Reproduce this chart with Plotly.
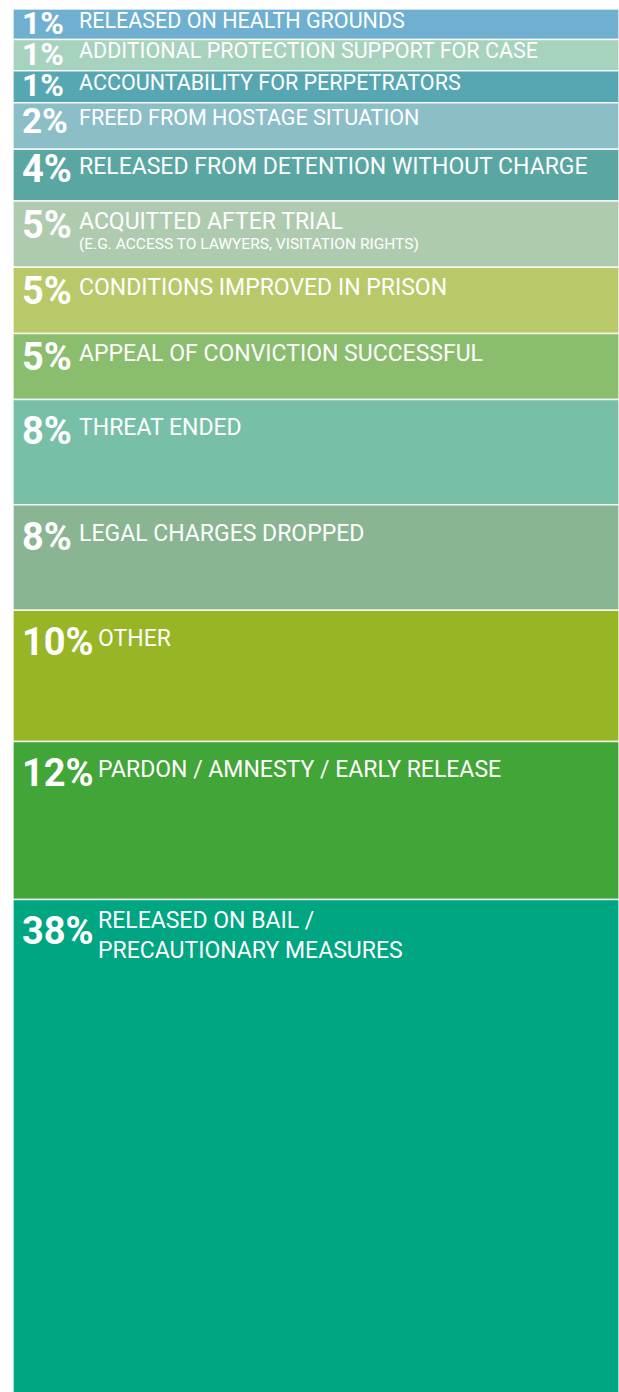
import numpy as np
import plotly.graph_objects as go

# Valores (de cima para baixo)
percents = ['1%', '1%', '1%', '2%', '4%', '5%', '5%', '5%', '8%', '8%', '10%', '12%', '38%']
labels = [
    'RELEASED ON HEALTH GROUNDS',
    'ADDITIONAL PROTECTION SUPPORT FOR CASE',
    'ACCOUNTABILITY FOR PERPETRATORS',
    'FREED FROM HOSTAGE SITUATION',
    'RELEASED FROM DETENTION WITHOUT CHARGE',
    'ACQUITTED AFTER TRIAL',
    'CONDITIONS IMPROVED IN PRISON',
    'APPEAL OF CONVICTION SUCCESSFUL',
    'THREAT ENDED',
    'LEGAL CHARGES DROPPED',
    'OTHER',
    'PARDON / AMNESTY / EARLY RELEASE',
    'RELEASED ON BAIL /<br>PRECAUTIONARY MEASURES',
]
sublabels = ['', '', '', '', '', '(E.G. ACCESS TO LAWYERS, VISITATION RIGHTS)',
             '', '', '', '', '', '', '']
# altura desenhada de cada bloco (os blocos pequenos têm altura mínima no original)
bar_heights = [2.32, 2.37, 2.43, 3.54, 3.93, 5.04, 5.02, 5.02, 8.01, 8.0, 9.98, 12.0, 38]
colors = ['#6fb0d0', '#a6d2be', '#57a7b2', '#8cbec8', '#5aa6a3', '#afcbaf', '#b9c96a',
          '#8abd6e', '#77bfa6', '#8ab593', '#97b524', '#41a537', '#00a582']

W, H = 619, 1392
top, left = 9, 13
y_max = 105.09
scale = (H - top) / y_max  # px por unidade

starts = np.concatenate([[0], np.cumsum(bar_heights)[:-1]])

fig = go.Figure(go.Bar(
    x=[0] * len(bar_heights),
    y=bar_heights,
    base=starts,
    width=1,
    marker=dict(color=colors, line=dict(color='rgba(255,255,255,0.85)', width=1.5)),
    hoverinfo='skip',
))

sub_size = 15.5

for p, lab, sub, h, s in zip(percents, labels, sublabels, bar_heights, starts):
    h_px = h * scale
    # blocos pequenos usam letras um pouco menores
    pct_size = 32 if h_px < 40 else (35 if h_px < 50 else 38)
    lab_size = 21.5 if h_px < 50 else 23
    lab_x = 26 + 19 * len(p)
    # distância do topo do bloco até o topo das letras
    cap_off = min(21, 4 + (h_px - 30) * 0.25)
    lab_off = cap_off - 7 * lab.count('<br>')
    fig.add_annotation(x=-0.5, y=s, xref='x', yref='y', xanchor='left', yanchor='top',
                       text='<b>' + p + '</b>', showarrow=False, xshift=7,
                       yshift=-(cap_off - 0.35 * pct_size),
                       font=dict(family='Roboto', size=pct_size, color='white'))
    fig.add_annotation(x=-0.5, y=s, xref='x', yref='y', xanchor='left', yanchor='top',
                       text=lab, showarrow=False, xshift=lab_x,
                       yshift=-(lab_off - 0.35 * lab_size), align='left',
                       font=dict(family='Roboto', size=lab_size, color='white'))
    if sub:
        fig.add_annotation(x=-0.5, y=s, xref='x', yref='y', xanchor='left', yanchor='top',
                           text=sub, showarrow=False, xshift=lab_x,
                           yshift=-(cap_off + 24 - 0.35 * sub_size),
                           font=dict(family='Roboto', size=sub_size, color='white'))

fig.update_layout(
    width=W, height=H,
    margin=dict(l=left, r=0, t=top, b=0),
    paper_bgcolor='white', plot_bgcolor='white',
    showlegend=False,
    xaxis=dict(range=[-0.5, 0.5], visible=False),
    yaxis=dict(range=[y_max, 0], visible=False),
)

fig.write_html('out.html', config={'displayModeBar': False},
               post_script="document.body.style.margin='0';")
